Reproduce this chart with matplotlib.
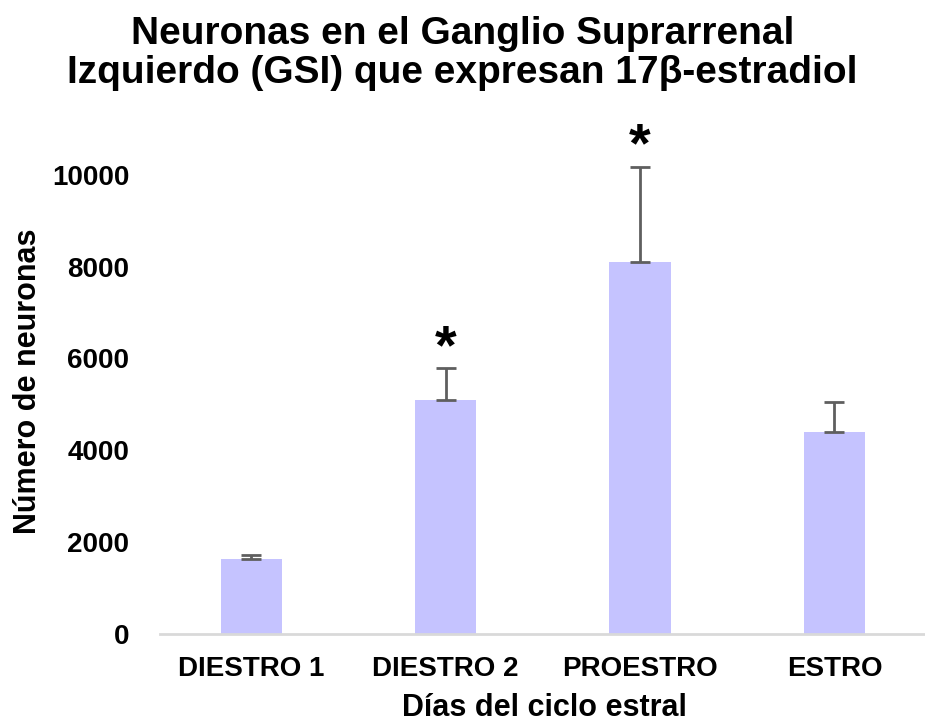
import matplotlib
matplotlib.use("Agg")
import matplotlib.pyplot as plt

# Mean neuron counts per estrous-cycle day and their error (upper bar only)
categories = ["DIESTRO 1", "DIESTRO 2", "PROESTRO", "ESTRO"]
means = [1640, 5100, 8100, 4400]
errors = [80, 680, 2070, 650]
significant = [False, True, True, False]
yticks = [0, 2000, 4000, 6000, 8000, 10000]

plt.rcParams["font.family"] = ["Liberation Sans", "DejaVu Sans"]
plt.rcParams["font.weight"] = "bold"

fig = plt.figure(figsize=(9.25, 7.25), dpi=100)
ax = fig.add_axes([0.173, 0.1255, 0.832, 0.697])

x = list(range(len(categories)))
ax.bar(x, means, width=0.315, color="#C5C3FF", zorder=2)
ax.errorbar(x, means, yerr=[[0] * len(errors), errors], fmt="none",
            ecolor="#5f5f5f", elinewidth=2, capsize=7, capthick=2, zorder=3)

for xi, m, e, s in zip(x, means, errors, significant):
    if s:
        ax.text(xi, m + e - 150, "*", ha="center", va="bottom",
                fontsize=40, fontweight="bold")

ax.set_xlim(-0.47, 3.49)
ax.set_ylim(0, 11000)
ax.set_yticks(yticks)
ax.set_yticklabels([str(t) for t in yticks])
ax.set_xticks(x)
ax.set_xticklabels(categories)
ax.tick_params(axis="both", length=0, labelsize=20)
ax.tick_params(axis="y", pad=22)
ax.tick_params(axis="x", pad=16)

for side in ["top", "right", "left"]:
    ax.spines[side].set_visible(False)
ax.spines["bottom"].set_color("#d9d9d9")
ax.spines["bottom"].set_linewidth(2)

ax.set_ylabel("Número de neuronas", fontsize=22, fontweight="bold")
ax.yaxis.set_label_coords(-0.152, 0.5)
ax.set_xlabel("Días del ciclo estral", fontsize=22, fontweight="bold", labelpad=8)

fig.suptitle("Neuronas en el Ganglio Suprarrenal\nIzquierdo (GSI) que expresan 17β-estradiol",
             x=0.5, y=0.978, fontsize=28, fontweight="bold", linespacing=1.12)

fig.savefig("out.png", dpi=100, facecolor="white")
